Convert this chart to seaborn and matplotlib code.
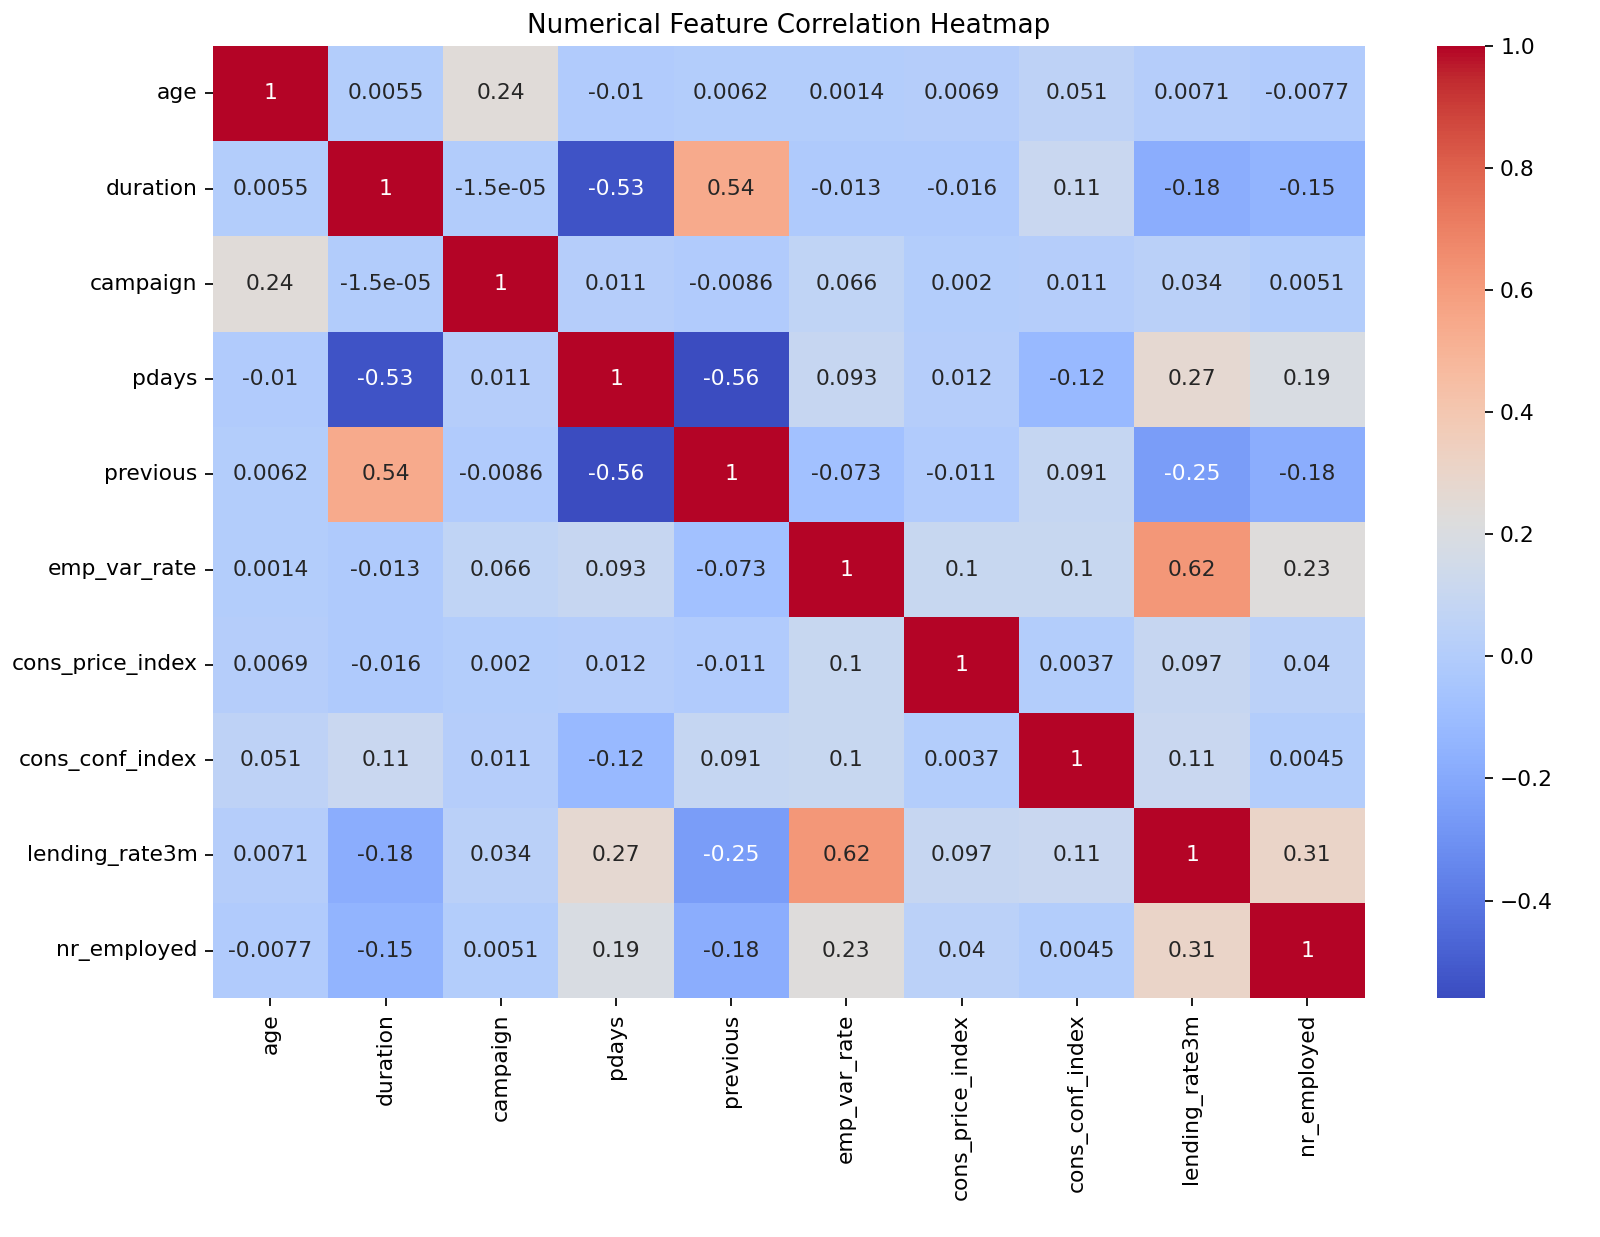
import numpy as np
import pandas as pd
import seaborn as sns
import matplotlib
matplotlib.use("Agg")
import matplotlib.pyplot as plt

features = ["age", "duration", "campaign", "pdays", "previous", "emp_var_rate",
            "cons_price_index", "cons_conf_index", "lending_rate3m", "nr_employed"]

# correlation values, row by row
age_row = [1, 0.0055, 0.24, -0.01, 0.0062, 0.0014, 0.0069, 0.051, 0.0071, -0.0077]
duration_row = [0.0055, 1, -1.5e-05, -0.53, 0.54, -0.013, -0.016, 0.11, -0.18, -0.15]
campaign_row = [0.24, -1.5e-05, 1, 0.011, -0.0086, 0.066, 0.002, 0.011, 0.034, 0.0051]
pdays_row = [-0.01, -0.53, 0.011, 1, -0.56, 0.093, 0.012, -0.12, 0.27, 0.19]
previous_row = [0.0062, 0.54, -0.0086, -0.56, 1, -0.073, -0.011, 0.091, -0.25, -0.18]
emp_var_rate_row = [0.0014, -0.013, 0.066, 0.093, -0.073, 1, 0.1, 0.1, 0.62, 0.23]
cons_price_row = [0.0069, -0.016, 0.002, 0.012, -0.011, 0.1, 1, 0.0037, 0.097, 0.04]
cons_conf_row = [0.051, 0.11, 0.011, -0.12, 0.091, 0.1, 0.0037, 1, 0.11, 0.0045]
lending_row = [0.0071, -0.18, 0.034, 0.27, -0.25, 0.62, 0.097, 0.11, 1, 0.31]
nr_employed_row = [-0.0077, -0.15, 0.0051, 0.19, -0.18, 0.23, 0.04, 0.0045, 0.31, 1]

corr = pd.DataFrame([age_row, duration_row, campaign_row, pdays_row, previous_row,
                     emp_var_rate_row, cons_price_row, cons_conf_row, lending_row,
                     nr_employed_row], index=features, columns=features)

fig = plt.figure(figsize=(1600 / 157, 1237 / 157), dpi=157)
# axes placed to match the original layout
ax = fig.add_axes([0.133, 0.193, 0.720, 0.770])
cax = fig.add_axes([0.898, 0.193, 0.030, 0.770])
sns.heatmap(corr, annot=True, cmap="coolwarm", ax=ax, cbar_ax=cax)
ax.set_title("Numerical Feature Correlation Heatmap")
plt.savefig("out.png")
